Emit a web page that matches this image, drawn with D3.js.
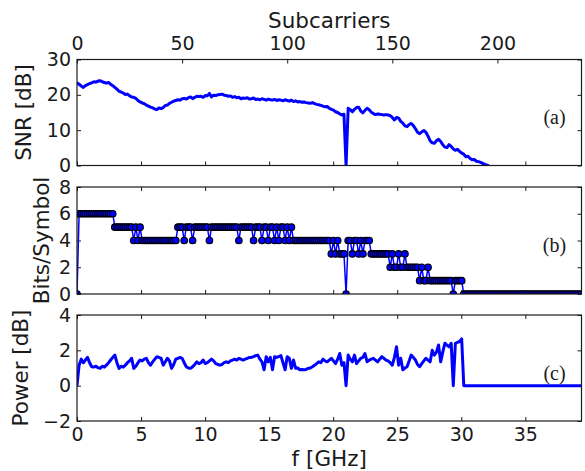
<!DOCTYPE html>
<html><head><meta charset="utf-8">
<script src="https://cdn.jsdelivr.net/npm/d3@7"></script>
<style>
html,body{margin:0;padding:0;background:#fff;}
svg text{font-family:"DejaVu Sans",sans-serif;fill:#1a1a1a;}
svg text.tag{font-family:"Liberation Serif","Times New Roman",serif;}
</style></head><body>
<svg id="chart" width="585" height="471"></svg>
<script>
// Per-subcarrier SNR in dB (index = subcarrier number)
const snrDb = [
  23.4, 23.0, 22.5, 22.1, 22.6, 22.9, 23.2, 23.4, 23.7, 23.6, 23.9,
  24.0, 23.7, 23.5, 23.3, 23.5, 23.0, 22.6, 22.1, 21.6, 21.0,
  20.8, 20.5, 20.1, 20.2, 19.7, 19.4, 19.3, 19.0, 18.4, 18.0,
  17.7, 17.5, 17.1, 16.8, 16.5, 16.3, 16.0, 15.8, 16.3, 16.1,
  16.4, 17.0, 17.1, 17.6, 17.9, 18.2, 18.4, 18.6, 18.5, 18.9,
  19.0, 18.8, 19.2, 19.4, 18.9, 19.3, 19.6, 19.5, 19.6, 19.3,
  19.8, 19.7, 20.4, 19.4, 19.9, 19.8, 20.0, 20.1, 20.2, 19.9,
  19.8, 19.6, 19.7, 19.3, 19.5, 19.2, 19.3, 18.9, 19.1, 19.0,
  19.2, 18.8, 18.9, 19.1, 18.7, 18.8, 18.6, 18.9, 18.7, 18.5,
  18.8, 18.6, 18.5, 18.7, 18.4, 18.6, 18.5, 18.3, 18.6, 18.4,
  18.2, 18.5, 18.1, 18.3, 18.0, 18.1, 17.9, 18.0, 17.8, 17.7,
  17.6, 17.8, 17.5, 17.3, 17.2, 17.0, 16.8, 16.6, 16.7, 16.2,
  15.9, 15.7, 15.2, 15.0, 14.6, 14.3, 14.5, 0.0, 16.2, 15.8,
  15.2, 15.9, 16.4, 16.5, 15.4, 14.9, 15.6, 16.2, 15.8, 15.1,
  14.7, 14.4, 14.6, 14.5, 14.4, 14.3, 14.4, 14.3, 14.1, 13.6,
  12.9, 13.6, 13.4, 12.5, 12.0, 11.2, 11.0, 11.6, 11.9, 11.3,
  10.4, 9.4, 9.0, 9.5, 9.9, 9.4, 8.3, 7.0, 6.4, 6.3,
  7.0, 7.4, 6.8, 5.9, 5.2, 5.1, 5.9, 5.4, 4.7, 4.3,
  4.6, 4.0, 3.5, 3.2, 2.5, 2.6, 2.0, 1.6, 1.7, 1.2,
  1.1, 0.9, 0.6, 0.3, 0.1, -0.2, -0.5
];

// Bit loading per subcarrier
const bitsPerSymbol = [
  0, 6, 6, 6, 6, 6, 6, 6, 6, 6,
  6, 6, 6, 6, 6, 6, 6, 6, 5, 5,
  5, 5, 5, 5, 5, 5, 5, 4, 5, 4,
  5, 4, 4, 4, 4, 4, 4, 4, 4, 4,
  4, 4, 4, 4, 4, 4, 4, 4, 5, 5,
  5, 4, 5, 5, 5, 4, 5, 5, 5, 5,
  5, 5, 5, 4, 5, 5, 5, 5, 5, 5,
  5, 5, 5, 5, 5, 5, 5, 4, 5, 5,
  5, 5, 5, 5, 4, 5, 5, 5, 4, 5,
  5, 4, 5, 5, 4, 5, 4, 5, 5, 4,
  5, 4, 5, 4, 4, 4, 4, 4, 4, 4,
  4, 4, 4, 4, 4, 4, 4, 4, 4, 4,
  4, 3, 4, 3, 4, 3, 3, 3, 0, 4,
  4, 3, 4, 4, 3, 4, 3, 4, 4, 4,
  3, 3, 3, 3, 3, 3, 3, 3, 3, 2,
  3, 2, 2, 3, 2, 2, 3, 2, 2, 2,
  2, 2, 2, 1, 2, 1, 1, 2, 1, 1,
  1, 1, 1, 1, 1, 1, 1, 1, 1, 0,
  1, 1, 1, 1, 0, 0, 0, 0, 0, 0,
  0, 0, 0, 0, 0, 0, 0, 0, 0, 0,
  0, 0, 0, 0, 0, 0, 0, 0, 0, 0,
  0, 0, 0, 0, 0, 0, 0, 0, 0, 0,
  0, 0, 0, 0, 0, 0, 0, 0, 0, 0,
  0, 0, 0, 0, 0, 0, 0, 0, 0, 0,
  0
];

// Power allocation per subcarrier in dB
const powerDb = [
  0.00, 1.16, 1.50, 1.30, 1.45, 1.60, 1.30, 1.07, 1.05, 1.10,
  1.02, 0.98, 1.10, 1.05, 1.16, 1.30, 1.45, 1.60, 1.73, 1.30,
  0.98, 1.10, 1.05, 1.16, 1.30, 1.40, 1.55, 0.98, 1.10, 1.30,
  1.45, 1.40, 1.50, 1.55, 1.30, 1.16, 1.35, 1.50, 1.64, 1.60,
  1.55, 1.16, 1.35, 1.55, 1.40, 0.98, 1.20, 1.50, 1.55, 1.60,
  1.55, 1.30, 1.07, 1.00, 0.98, 1.07, 1.20, 1.35, 1.25, 1.30,
  1.45, 1.25, 1.30, 1.40, 1.50, 1.40, 1.25, 1.20, 1.16, 1.20,
  1.30, 1.35, 1.30, 1.40, 1.45, 1.50, 1.45, 1.55, 1.50, 1.45,
  1.50, 1.55, 1.60, 1.60, 1.64, 1.70, 1.73, 1.50, 1.35, 0.90,
  1.64, 1.35, 1.60, 0.90, 1.64, 1.60, 1.65, 1.70, 1.30, 0.90,
  1.64, 1.55, 0.98, 1.45, 0.98, 1.00, 0.90, 0.92, 0.90, 0.92,
  0.98, 1.00, 1.07, 1.15, 1.25, 1.35, 1.30, 1.50, 1.40, 1.35,
  1.45, 1.55, 1.40, 1.25, 1.50, 1.82, 1.16, 1.30, 0.00, 1.73,
  1.50, 1.35, 1.73, 1.25, 1.40, 1.55, 1.60, 1.82, 1.35, 1.45,
  1.50, 1.55, 1.45, 1.35, 1.50, 1.64, 1.55, 1.45, 1.40, 1.30,
  1.16, 1.60, 2.20, 1.16, 1.55, 0.90, 1.00, 1.07, 1.40, 1.73,
  1.60, 1.45, 1.20, 1.07, 1.25, 1.40, 1.55, 1.45, 1.35, 2.00,
  1.73, 1.90, 2.30, 1.35, 1.90, 2.40, 2.30, 2.20, 2.40, 0.00,
  2.40, 2.45, 2.50, 2.65, 0.00, 0.00, 0.00, 0.00, 0.00, 0.00,
  0, 0, 0, 0, 0, 0, 0, 0, 0, 0,
  0, 0, 0, 0, 0, 0, 0, 0, 0, 0,
  0, 0, 0, 0, 0, 0, 0, 0, 0, 0,
  0, 0, 0, 0, 0, 0, 0, 0, 0, 0,
  0, 0, 0, 0, 0, 0, 0, 0, 0, 0,
  0
];

const subcarrierTicks = [0, 50, 100, 150, 200];
const freqTicks = [0, 5, 10, 15, 20, 25, 30, 35];
const snrTicks = [0, 10, 20, 30];
const bitsTicks = [0, 2, 4, 6, 8];
const powerTicks = [-2, 0, 2, 4];

const SUBCARRIER_SPACING_GHZ = 0.1641;
const SUBCARRIER_MAX = 240;

const svg = d3.select("#chart");
const left = 77, right = 581.5;
const blue = "#0000ff";
const ink = "#1a1a1a";

const xSub = d3.scaleLinear().domain([0, SUBCARRIER_MAX]).range([left, right]);
const xFreq = d3.scaleLinear().domain([0, SUBCARRIER_MAX * SUBCARRIER_SPACING_GHZ]).range([left, right]);

const panels = [
  {id: "a", top: 59.5, bottom: 165.5, domain: [0, 30], ticks: snrTicks, label: "SNR [dB]", labelX: 30.5},
  {id: "b", top: 187, bottom: 294, domain: [0, 8], ticks: bitsTicks, label: "Bits/Symbol", labelX: 49},
  {id: "c", top: 315, bottom: 421, domain: [-2, 4], ticks: powerTicks, label: "Power [dB]", labelX: 27.5}
];

const tickFmt = d => d < 0 ? "\u2212" + Math.abs(d) : String(d);

function styleAxis(g, fontSize) {
  g.select(".domain").remove();
  g.selectAll(".tick line").attr("stroke", ink).attr("stroke-width", 1);
  g.selectAll(".tick text").attr("font-size", fontSize).attr("fill", ink);
}

panels.forEach((p, i) => {
  p.y = d3.scaleLinear().domain(p.domain).range([p.bottom, p.top]);
  const g = svg.append("g");

  svg.append("clipPath").attr("id", "clip-" + p.id)
    .append("rect").attr("x", left).attr("y", p.top)
    .attr("width", right - left).attr("height", p.bottom - p.top);

  // y axes (labels on left, inward ticks both sides)
  g.append("g").attr("transform", `translate(${left},0)`)
    .call(d3.axisLeft(p.y).tickValues(p.ticks).tickFormat(tickFmt).tickSizeInner(-4).tickSizeOuter(0).tickPadding(6))
    .call(a => styleAxis(a, 19));
  g.append("g").attr("transform", `translate(${right},0)`)
    .call(d3.axisRight(p.y).tickValues(p.ticks).tickFormat("").tickSizeInner(-4).tickSizeOuter(0))
    .call(a => styleAxis(a, 19));

  // top x axis: subcarriers on first panel, frequency otherwise
  const topAxis = i === 0
    ? d3.axisTop(xSub).tickValues(subcarrierTicks).tickFormat(d3.format("d")).tickPadding(9.5)
    : d3.axisTop(xFreq).tickValues(freqTicks).tickFormat("");
  g.append("g").attr("transform", `translate(0,${p.top})`)
    .call(topAxis.tickSizeInner(-4).tickSizeOuter(0))
    .call(a => styleAxis(a, 19));

  const bottomAxis = d3.axisBottom(xFreq).tickValues(freqTicks)
    .tickFormat(i === 2 ? d3.format("d") : "").tickPadding(7);
  g.append("g").attr("transform", `translate(0,${p.bottom})`)
    .call(bottomAxis.tickSizeInner(-4).tickSizeOuter(0))
    .call(a => styleAxis(a, 19));

  // y label
  svg.append("text")
    .attr("transform", `translate(${p.labelX},${(p.top + p.bottom) / 2}) rotate(-90)`)
    .attr("text-anchor", "middle").attr("font-size", 21.5).text(p.label);

  // panel tag
  svg.append("text").attr("class", "tag")
    .attr("x", 554.5).attr("y", p.y(p.domain[0] + (p.domain[1] - p.domain[0]) * 0.455))
    .attr("text-anchor", "middle").attr("dy", "0.35em")
    .attr("font-size", 20).text(`(${p.id})`);
});

// (a) SNR trace
const [pa, pb, pc] = panels;
svg.append("path").datum(snrDb)
  .attr("clip-path", "url(#clip-a)")
  .attr("fill", "none").attr("stroke", blue).attr("stroke-width", 3)
  .attr("stroke-linejoin", "round")
  .attr("d", d3.line().x((d, k) => xSub(k)).y(d => pa.y(d)));

// (b) bit loading: thin line with circle markers
const gb = svg.append("g").attr("clip-path", "url(#clip-b)");
gb.append("path").datum(bitsPerSymbol)
  .attr("fill", "none").attr("stroke", blue).attr("stroke-width", 1.5)
  .attr("d", d3.line().x((d, k) => xSub(k)).y(d => pb.y(d)));
gb.selectAll("circle").data(bitsPerSymbol).join("circle")
  .attr("cx", (d, k) => xSub(k)).attr("cy", d => pb.y(d))
  .attr("r", 3.3).attr("fill", blue).attr("stroke", "#000").attr("stroke-width", 1.1);

// (c) power allocation
svg.append("path").datum(powerDb)
  .attr("clip-path", "url(#clip-c)")
  .attr("fill", "none").attr("stroke", blue).attr("stroke-width", 3)
  .attr("stroke-linejoin", "round")
  .attr("d", d3.line().x((d, k) => xSub(k)).y(d => pc.y(d)));

// frames
panels.forEach(p => {
  svg.append("rect").attr("x", left).attr("y", p.top)
    .attr("width", right - left).attr("height", p.bottom - p.top)
    .attr("fill", "none").attr("stroke", ink).attr("stroke-width", 1.2);
});

// axis titles
svg.append("text").attr("x", (left + right) / 2).attr("y", 28)
  .attr("text-anchor", "middle").attr("font-size", 21.5).text("Subcarriers");
svg.append("text").attr("x", (left + right) / 2).attr("y", 466)
  .attr("text-anchor", "middle").attr("font-size", 21.5).text("f [GHz]");
</script>
</body></html>
